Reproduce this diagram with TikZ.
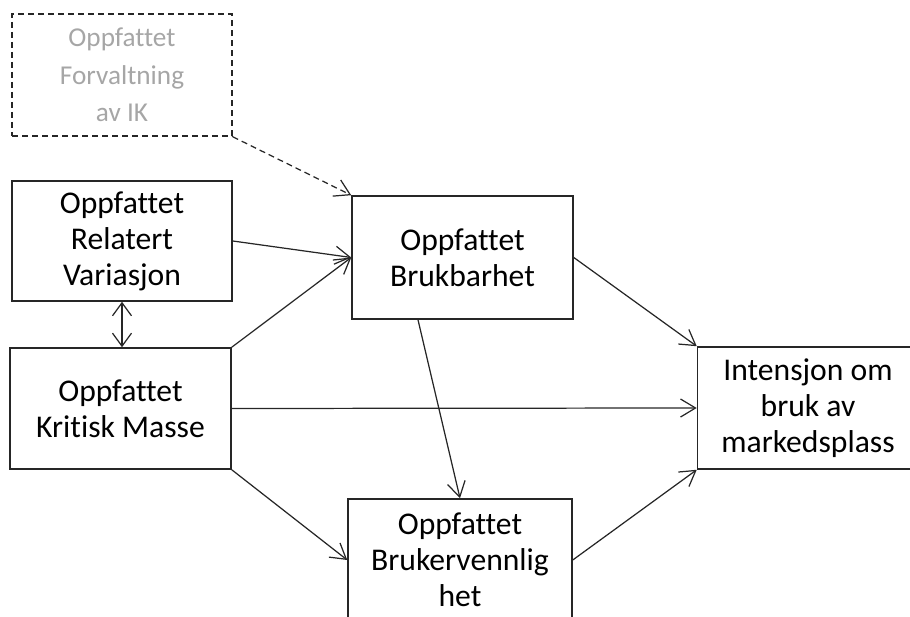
\documentclass[tikz,border=0pt]{standalone}
\usepackage{fontspec}
\setmainfont{Carlito}[Ligatures=NoCommon]
\usetikzlibrary{arrows.meta}
\usetikzlibrary{calc}

\begin{document}
\begin{tikzpicture}[x=0.02cm,y=-0.02cm,
    % styles
    construct/.style={draw=black!85,line width=0.9pt,rectangle,align=center,inner sep=0pt,
      minimum width=4.42cm,minimum height=2.44cm,font=\fontsize{18pt}{20.5pt}\selectfont},
    dashed construct/.style={construct,dash pattern=on 1.2mm off 0.8mm,text=gray!70,
      font=\fontsize{15.5pt}{21.3pt}\selectfont},
    effect/.style={-{Straight Barb[length=3mm,width=3.6mm]},line width=0.7pt,black!85},
    weak effect/.style={effect,dash pattern=on 1.2mm off 0.8mm},
    mutual/.style={{Straight Barb[length=2.6mm,width=3.8mm]}-{Straight Barb[length=2.6mm,width=3.8mm]},line width=0.7pt,black!85}]

  % frame
  \useasboundingbox (0,0) rectangle (910,617);
  \clip (0,0) rectangle (910,617);

  % constructs
  \node[dashed construct,minimum width=4.4cm] (ik) at (122,75) {Oppfattet\\Forvaltning\\av IK};
  \node[construct,minimum width=4.4cm,minimum height=2.4cm] (rel) at (122,241) {Oppfattet\\Relatert\\Variasjon};
  \node[construct,minimum height=2.42cm] (kri) at (120.5,408.5) {Oppfattet\\Kritisk Masse};
  \node[construct,minimum height=2.46cm] (bb) at (462.5,257.5) {Oppfattet\\Brukbarhet};
  \node[construct] (int) at (808,408) {Intensjon om\\bruk av\\markedsplass};
  \node[construct,minimum width=4.48cm] (bv) at (460,560) {Oppfattet\\Brukervennlig\\het};

  % effects
  \draw[weak effect] (ik.south east) -- (bb.north west);
  \draw[effect] (rel.east) -- (bb.west);
  \draw[effect] (kri.north east) -- (bb.west);
  \draw[mutual] (rel.south) -- (rel.south |- kri.north);
  \draw[effect] (kri.east) -- (int.west);
  \draw[effect] (kri.south east) -- (bv.west);
  \draw[effect] (bb.east) -- (int.north west);
  \draw[effect] ($(bb.south west)!0.3!(bb.south east)$) -- (bv.north);
  \draw[effect] (bv.east) -- (int.south west);

\end{tikzpicture}
\end{document}
